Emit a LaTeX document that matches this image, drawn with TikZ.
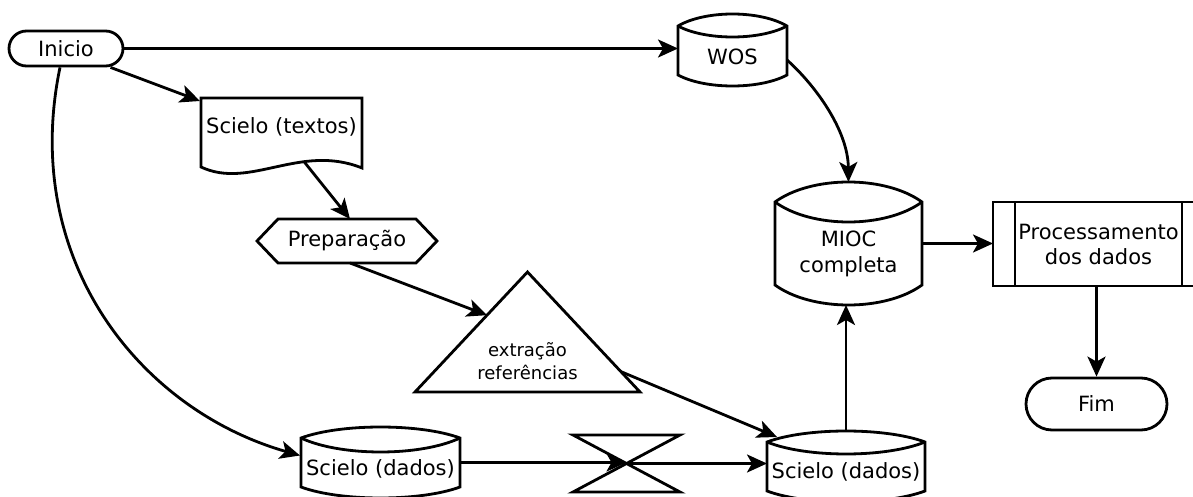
\documentclass[tikz,border=0pt]{standalone}
\usepackage{fontspec}
\setmainfont{DejaVu Sans}
\usetikzlibrary{arrows.meta,calc}
\newcommand\dbcyl[7]{%
 \pgfmathsetmacro\cqa{(#2-#1)/4}%
 \pgfmathsetmacro\cya{#3+#5}%
 \pgfmathsetmacro\cyb{#3-#5/3}%
 \pgfmathsetmacro\cyc{#3+#5+4*#6/3}%
 \pgfmathsetmacro\cyd{#4-#7}%
 \pgfmathsetmacro\cye{#4+#7/3}%
 \pgfmathsetmacro\cxl{#1+\cqa}%
 \pgfmathsetmacro\cxr{#2-\cqa}%
 \draw[outline] (#1,\cya) .. controls (\cxl,\cyb) and (\cxr,\cyb) .. (#2,\cya) -- (#2,\cyd) .. controls (\cxr,\cye) and (\cxl,\cye) .. (#1,\cyd) -- cycle;
 \draw[outline] (#1,\cya) .. controls (\cxl,\cyc) and (\cxr,\cyc) .. (#2,\cya);
}
\tikzset{
 outline/.style={line width=1.4pt, line join=miter},
 arr/.style={line width=1.4pt, -{Stealth[length=10pt,width=9pt,inset=2.5pt]}},
 shp/.style={draw=none, inner sep=0pt, outer sep=0pt},
 txt/.style={inner sep=0pt, align=center, font=\fontsize{10.5}{13}\selectfont},
 small/.style={inner sep=0pt, align=center, font=\fontsize{9}{11.5}\selectfont},
 term/.style={draw, line width=1.4pt, inner sep=0pt, font=\fontsize{10.5}{13}\selectfont},
}
\begin{document}
\begin{tikzpicture}[x=0.5pt,y=-0.5pt]
\useasboundingbox (0,0) rectangle (1193,497);
\clip (0,0) rectangle (1193,497);
\fill[white] (0,0) rectangle (1193,497);

% terminals
\node[term, rounded corners=8.75pt, minimum width=57pt, minimum height=17.5pt] (inicio) at (66,48.5) {Inicio};
\node[term, rounded corners=13pt, minimum width=70.5pt, minimum height=26pt] (fim) at (1096.5,404) {Fim};

% WOS
\dbcyl{678}{787}{14}{86}{12}{11}{11}
\node[shp, minimum width=54.5pt, minimum height=36pt] (wos) at (732.5,50) {};
\node[txt] (wost) at (732.5,57) {WOS};

% MIOC completa
\dbcyl{775}{922}{182}{305}{20}{20}{20}
\node[shp, minimum width=73.5pt, minimum height=61.5pt] (mioc) at (848.5,243.5) {};
\node[txt] (mioct) at (848.5,253.5) {MIOC\\completa};

% Scielo (dados) left
\dbcyl{301}{460}{427}{498}{11}{14}{11}
\node[shp, minimum width=79.5pt, minimum height=35.5pt] (scd1) at (380.5,462.5) {};
\node[txt] (scd1t) at (380.5,469) {Scielo (dados)};

% Scielo (dados) right
\dbcyl{767}{925}{431}{502}{11}{12}{11}
\node[shp, minimum width=79pt, minimum height=35.5pt] (scd2) at (846,466.5) {};
\node[txt] (scd2t) at (846,472) {Scielo (dados)};

% document
\draw[outline] (201,167) -- (201,98) -- (362,98) -- (362,168) .. controls (300,143) and (250,190) .. (201,167) -- cycle;
\node[shp, minimum width=80.5pt, minimum height=34.5pt] (textos) at (281.5,132.5) {};
\node[txt] (textost) at (281.5,127) {Scielo (textos)};

% preparation hexagon
\draw[outline] (257,241) -- (278,219) -- (416,219) -- (437,241) -- (416,263) -- (278,263) -- cycle;
\node[shp, txt, minimum width=90pt, minimum height=22pt] (prep) at (347,241) {Preparação};

% triangle
\draw[outline] (415,392) -- (527.5,272) -- (640,392) -- cycle;
\node[shp, minimum width=112.5pt, minimum height=60pt] (tri) at (527.5,332) {};
\node[small] (trit) at (527.5,361.5) {extração\\referências};

% collate
\draw[outline] (573,435) -- (680,435) -- (573,492) -- (680,492) -- cycle;
\node[shp, minimum width=53.5pt, minimum height=28.5pt] (hg) at (626.5,463.5) {};

% predefined process
\draw[outline] (993,202) rectangle (1204,286);
\draw[outline] (1015,202) -- (1015,286);
\draw[outline] (1182,202) -- (1182,286);
\node[shp, minimum width=105.5pt, minimum height=42pt] (proc) at (1098.5,244) {};
\node[txt, font=\fontsize{10.5}{12.5}\selectfont] (proct) at (1098.5,244.5) {Processamento\\dos dados};

% connectors
\draw[arr] (inicio.east) -- (inicio.east -| wos.west);
\draw[arr] (inicio.-23) -- ($(textos.north west)+(-1,3)$);
\draw[arr] ($(textos.south)+(22,-6)$) -- ($(prep.north)+(3,0)$);
\draw[arr] ($(prep.south)+(3,0)$) -- ($(tri.south west)!0.64!(tri.north)$);
\draw[arr] ($(tri.south east)!0.17!(tri.north)$) -- ($(scd2.north west)+(10,6)$);
\draw[arr] ($(inicio.south)+(-6,0)$) .. controls (20,260) and (140,410) .. ($(scd1.west)+(-1,-7)$);
\draw[arr] (scd1.east) -- (scd1.east -| hg.center);
\draw[arr] (hg.center) -- (hg.center -| scd2.west);
\draw[arr] (scd2.north) -- (scd2.north |- mioc.south);
\draw[arr] ($(wos.east)+(0,10)$) .. controls (815,85) and (848,130) .. (mioc.north);
\draw[arr] (mioc.east) -- (mioc.east -| proc.west);
\draw[arr] (proc.south -| fim.north) -- (fim.north);
\end{tikzpicture}
\end{document}
